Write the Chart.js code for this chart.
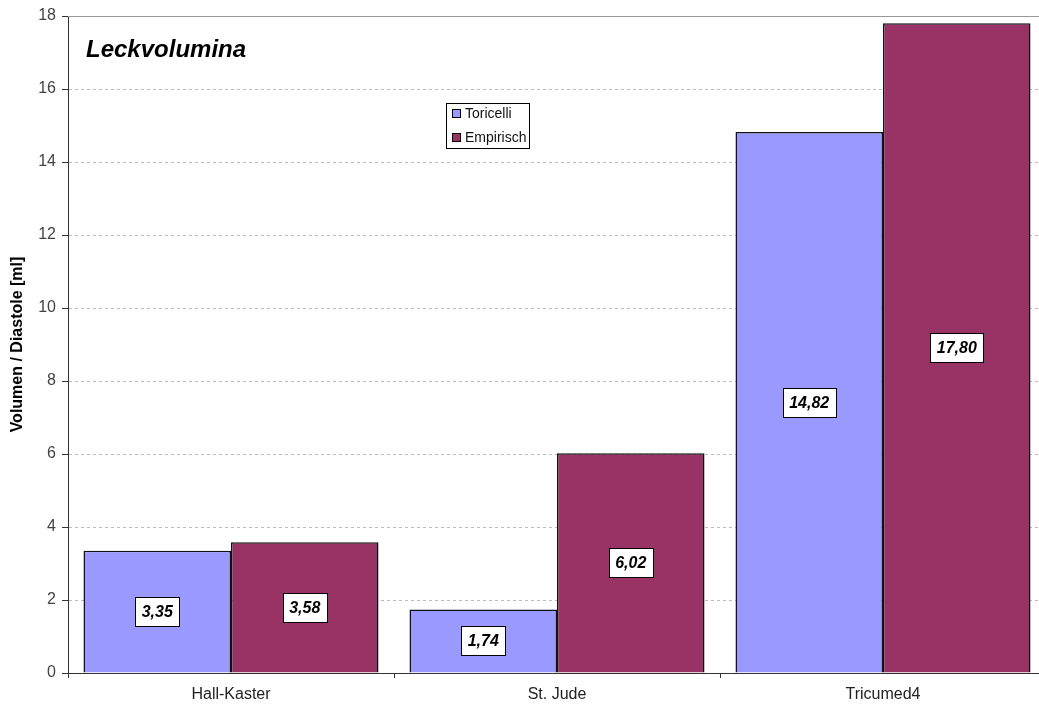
<!DOCTYPE html>
<html>
<head>
<meta charset="utf-8">
<script src="https://cdn.jsdelivr.net/npm/chart.js@4.4.1/dist/chart.umd.min.js"></script>
<style>
  html, body { margin: 0; padding: 0; background: #fff; overflow: hidden; }
  #wrap { width: 1039px; height: 706px; overflow: hidden; }
</style>
</head>
<body>
<div id="wrap"><canvas id="chart" width="1046" height="706"></canvas></div>
<script>
// Daten
const kategorien = ['Hall-Kaster', 'St. Jude', 'Tricumed4'];
const toricelli = [3.35, 1.74, 14.82];
const empirisch = [3.58, 6.02, 17.80];
const reihenNamen = ['Toricelli', 'Empirisch'];
const yTicks = [0, 2, 4, 6, 8, 10, 12, 14, 16, 18];

const FONT = "'Liberation Sans', Arial, sans-serif";

// Titel oben links im Diagramm + obere Rahmenlinie
const titelPlugin = {
  id: 'titel',
  beforeDatasetsDraw(chart) {
    const {ctx, chartArea} = chart;
    ctx.save();
    ctx.strokeStyle = '#999';
    ctx.lineWidth = 1;
    ctx.beginPath();
    ctx.moveTo(chartArea.left, chartArea.top + 0.5);
    ctx.lineTo(chartArea.right, chartArea.top + 0.5);
    ctx.stroke();
    ctx.restore();
  },
  afterDraw(chart) {
    const {ctx} = chart;
    ctx.save();
    ctx.font = 'italic bold 24px ' + FONT;
    ctx.fillStyle = '#000';
    ctx.textBaseline = 'alphabetic';
    ctx.fillText('Leckvolumina', 86, 57);
    ctx.restore();
  }
};

// Wertebeschriftung in weissen Kaestchen
const wertePlugin = {
  id: 'werte',
  afterDatasetsDraw(chart) {
    const {ctx} = chart;
    ctx.save();
    ctx.font = 'italic bold 16px ' + FONT;
    ctx.textAlign = 'center';
    ctx.textBaseline = 'middle';
    chart.data.datasets.forEach((ds, i) => {
      chart.getDatasetMeta(i).data.forEach((bar, j) => {
        const txt = ds.data[j].toFixed(2).replace('.', ',');
        const w = Math.round(ctx.measureText(txt).width + 13);
        const h = 29;
        const cx = bar.x;
        const cy = (bar.y + bar.base) / 2;
        const x0 = Math.round(cx - w / 2) + 0.5;
        const y0 = Math.round(cy - h / 2) + 0.5;
        ctx.fillStyle = '#fff';
        ctx.fillRect(x0, y0, w, h);
        ctx.strokeStyle = '#000';
        ctx.lineWidth = 1;
        ctx.strokeRect(x0, y0, w, h);
        ctx.fillStyle = '#000';
        ctx.fillText(txt, cx, cy + 1);
      });
    });
    ctx.restore();
  }
};

// Legende im Diagramm
const legendePlugin = {
  id: 'legende',
  afterDraw(chart) {
    const {ctx} = chart;
    const x = 446.5, y = 103.5, w = 83, h = 45;
    ctx.save();
    ctx.fillStyle = '#fff';
    ctx.fillRect(x, y, w, h);
    ctx.strokeStyle = '#000';
    ctx.lineWidth = 1;
    ctx.strokeRect(x, y, w, h);
    ctx.font = '14px ' + FONT;
    ctx.textBaseline = 'middle';
    chart.data.datasets.forEach((ds, i) => {
      const cy = 114 + i * 24;
      ctx.fillStyle = ds.backgroundColor;
      ctx.fillRect(452.5, cy - 4.5, 8, 8);
      ctx.strokeStyle = '#000';
      ctx.strokeRect(452.5, cy - 4.5, 8, 8);
      ctx.fillStyle = '#111';
      ctx.fillText(ds.label, 465, cy);
    });
    ctx.restore();
  }
};

new Chart(document.getElementById('chart'), {
  type: 'bar',
  data: {
    labels: kategorien,
    datasets: [
      { label: reihenNamen[0], data: toricelli, backgroundColor: '#9999FF', borderColor: '#111', borderWidth: 1.5 },
      { label: reihenNamen[1], data: empirisch, backgroundColor: '#993366', borderColor: '#111', borderWidth: 1.5 }
    ]
  },
  options: {
    responsive: false,
    animation: false,
    devicePixelRatio: 1,
    layout: { padding: { top: 16, left: 0, right: 0, bottom: 0 } },
    datasets: { bar: { categoryPercentage: 0.905, barPercentage: 1.0 } },
    plugins: { legend: { display: false }, tooltip: { enabled: false }, title: { display: false } },
    scales: {
      x: {
        offset: true,
        grid: { offset: true, drawOnChartArea: false, tickLength: 5, tickColor: '#333' },
        border: { color: '#333', width: 1 },
        ticks: { color: '#222', padding: 7, font: { family: FONT, size: 16 } },
        afterFit(s) { s.height = 33; }
      },
      y: {
        min: 0,
        max: 18,
        afterBuildTicks(s) { s.ticks = yTicks.map(v => ({ value: v })); },
        grid: { color: '#bbb', tickLength: 6, tickColor: '#333', lineWidth: 1 },
        border: { color: '#333', width: 1, dash: [3, 3] },
        ticks: { color: '#444', padding: 6, font: { family: FONT, size: 16 } },
        title: {
          display: true,
          text: 'Volumen / Diastole [ml]',
          color: '#000',
          font: { family: FONT, size: 16, weight: 'bold' },
          padding: { top: 8, bottom: 0 }
        },
        afterFit(s) { s.width = 68; }
      }
    }
  },
  plugins: [titelPlugin, wertePlugin, legendePlugin]
});
</script>
</body>
</html>
